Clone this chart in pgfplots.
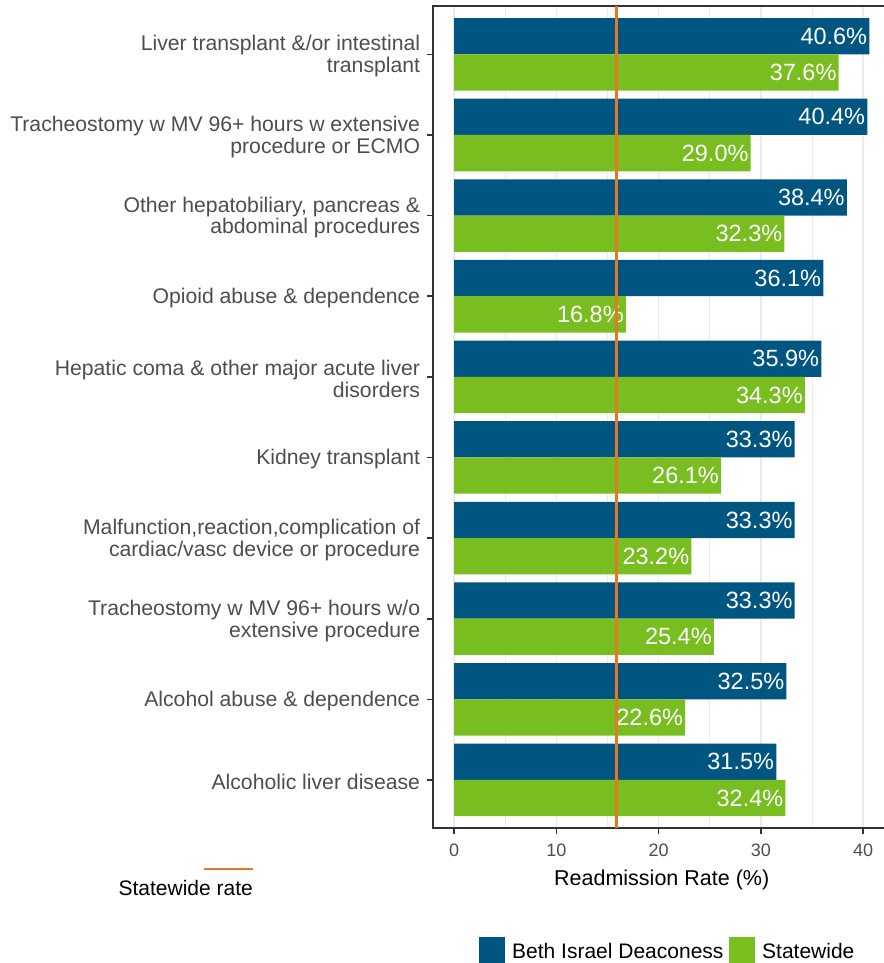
\documentclass[border=0pt]{standalone}
\usepackage{pgfplots}
\usepackage{pgfplotstable}
\pgfplotsset{compat=1.18}
\usepackage{fontspec}
\setmainfont{Liberation Sans}
\definecolor{bidblue}{RGB}{0,86,128}
\definecolor{stgreen}{RGB}{120,190,32}
\definecolor{stateorange}{RGB}{232,119,34}
\definecolor{gridgray}{RGB}{235,235,235}
\definecolor{axisgray}{RGB}{51,51,51}
\definecolor{tickgray}{RGB}{77,77,77}

\pgfplotstableread{
pos bidmc state
1  40.6 37.6
2  40.4 29.0
3  38.4 32.3
4  36.1 16.8
5  35.9 34.3
6  33.3 26.1
7  33.3 23.2
8  33.3 25.4
9  32.5 22.6
10 31.5 32.4
}\datatable

\pgfplotstableread{
x y
15.9 0.4
15.9 10.6
}\ratetable

\pgfplotsset{
  barlabels/.style={
    point meta=x,
    nodes near coords={\pgfmathprintnumber[fixed,fixed zerofill,precision=1]{\pgfplotspointmeta}\%},
    every node near coord/.append style={anchor=east, xshift=-2pt, yshift=#1, inner sep=0pt, text=white, font=\fontsize{23.5}{24}\selectfont},
  }
}

\begin{document}
\begin{tikzpicture}
\path[use as bounding box] (0pt,0pt) rectangle (883pt,963pt);
\begin{axis}[
  at={(433.3pt,134.7pt)}, anchor=south west,
  width=456.8pt, height=822.3pt, scale only axis,
  xmin=-2.03, xmax=42.63, ymin=0.4, ymax=10.6, y dir=reverse,
  xtick={0,10,20,30,40}, minor xtick={5,15,25,35},
  xmajorgrids, xminorgrids,
  major grid style={draw=gridgray, line width=1.6pt},
  minor grid style={draw=gridgray, line width=0.9pt},
  ytick={1,2,3,4,5,6,7,8,9,10},
  yticklabels={
    {Liver transplant \&/or intestinal\\transplant},
    {Tracheostomy w MV 96+ hours w extensive\\procedure or ECMO},
    {Other hepatobiliary, pancreas \&\\abdominal procedures},
    {Opioid abuse \& dependence},
    {Hepatic coma \& other major acute liver\\disorders},
    {Kidney transplant},
    {Malfunction,reaction,complication of\\cardiac/vasc device or procedure},
    {Tracheostomy w MV 96+ hours w/o\\extensive procedure},
    {Alcohol abuse \& dependence},
    {Alcoholic liver disease}},
  xtick pos=bottom, ytick pos=left,
  tick align=outside, major tick length=6pt, minor tick length=0pt,
  tick style={draw=axisgray, line width=1.6pt},
  axis line style={draw=axisgray, line width=2pt},
  xticklabel style={font=\fontsize{18}{20}\selectfont, text=tickgray, anchor=north, inner sep=0pt, yshift=-9pt},
  yticklabel style={font=\fontsize{21.2}{21.7}\selectfont, text=tickgray, align=right, anchor=east, inner sep=0pt, xshift=-7pt, yshift=-2pt},
  /pgf/number format/assume math mode=true,
  clip mode=individual,
]
\addplot[xbar, bar width=0.45, draw=none, fill=bidblue, bar shift=-0.225, barlabels=18.1pt] table[x=bidmc, y=pos] {\datatable};
\addplot[xbar, bar width=0.45, draw=none, fill=stgreen, bar shift=0.225, barlabels=-18.1pt] table[x=state, y=pos] {\datatable};
\addplot[sharp plot, no marks, draw=stateorange, line width=2.5pt] table[x=x, y=y] {\ratetable};
\end{axis}
\node[anchor=base, font=\fontsize{21.5}{22}\selectfont] at (661.7pt,77pt) {Readmission Rate (\%)};
\draw[stateorange, line width=2.5pt] (204pt,94pt) -- (253pt,94pt);
\node[anchor=base east, inner sep=0pt, font=\fontsize{21}{22}\selectfont] at (253pt,67pt) {Statewide rate};
\fill[bidblue] (479pt,0pt) rectangle (505pt,26pt);
\node[anchor=base west, inner sep=0pt, font=\fontsize{21}{22}\selectfont] at (512pt,5pt) {Beth Israel Deaconess};
\fill[stgreen] (729pt,0pt) rectangle (755pt,26pt);
\node[anchor=base west, inner sep=0pt, font=\fontsize{21}{22}\selectfont] at (762pt,5pt) {Statewide};
\end{tikzpicture}
\end{document}
